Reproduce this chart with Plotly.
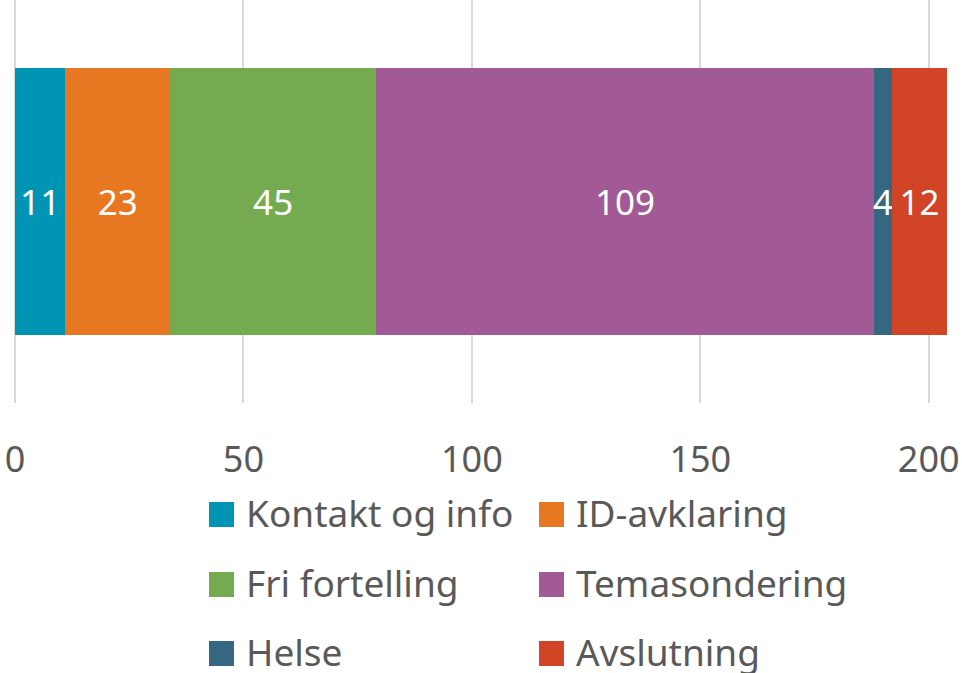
import plotly.graph_objects as go

# Data
categories = ["Kontakt og info", "ID-avklaring", "Fri fortelling", "Temasondering", "Helse", "Avslutning"]
values = [11, 23, 45, 109, 4, 12]
colors = ["#0094B4", "#E87722", "#75AB50", "#A15A95", "#356781", "#D14426"]
row_label = ["Intervju"]
x_ticks = [0, 50, 100, 150, 200]

FONT = "Noto Sans, Source Sans Pro, sans-serif"
TEXT_GREY = "#595959"

W, H = 962, 673
ML, MR, MT, MB = 15, 15, 0, 270
PW, PH = W - ML - MR, H - MT - MB

def px_x(px):
    return (px - ML) / PW

def px_y(py):
    return (H - MB - py) / PH

fig = go.Figure()
for name, val, col in zip(categories, values, colors):
    fig.add_trace(go.Bar(
        y=row_label, x=[val], name=name, orientation="h",
        marker=dict(color=col, line=dict(width=0)),
        texttemplate="%{x}", textposition="inside", insidetextanchor="middle",
        textfont=dict(color="white", size=35, family=FONT),
        constraintext="none", showlegend=False, hoverinfo="name+x",
    ))

# Manual legend (two columns, three rows)
col_sq_x = [209, 539]
row_sq_top = [502, 572, 641]
sq = 25
text_gap = 10
shapes, annotations = [], []
for i, (name, col) in enumerate(zip(categories, colors)):
    c, r = i % 2, i // 2
    x0 = col_sq_x[c]
    y0 = row_sq_top[r]
    shapes.append(dict(type="rect", xref="paper", yref="paper",
                       x0=px_x(x0), x1=px_x(x0 + sq), y0=px_y(y0 + sq), y1=px_y(y0),
                       fillcolor=col, line=dict(width=0), layer="above"))
    annotations.append(dict(xref="paper", yref="paper", x=px_x(x0 + sq + text_gap),
                            y=px_y(y0 + sq / 2 - 2), xanchor="left", yanchor="middle",
                            text=name, showarrow=False,
                            font=dict(size=37, color=TEXT_GREY, family=FONT)))

fig.update_layout(
    width=W, height=H,
    margin=dict(l=ML, r=MR, t=MT, b=MB, pad=0),
    paper_bgcolor="white", plot_bgcolor="white",
    barmode="stack", bargap=0.336,
    font=dict(family=FONT, color=TEXT_GREY),
    showlegend=False,
    shapes=shapes, annotations=annotations,
    xaxis=dict(range=[0, 204], tickvals=x_ticks, showgrid=True, gridcolor="#D9D9D9",
               gridwidth=2, zeroline=True, zerolinecolor="#D9D9D9", zerolinewidth=2,
               showline=False, ticks="", tickfont=dict(size=36, color=TEXT_GREY, family=FONT),
               ticklabelstandoff=32, fixedrange=True),
    yaxis=dict(showticklabels=False, showgrid=False, zeroline=False, showline=False,
               fixedrange=True),
)

fig.write_html(
    "out.html",
    config={"displayModeBar": False},
    post_script="document.body.style.margin='0';document.body.style.overflow='hidden';",
)
